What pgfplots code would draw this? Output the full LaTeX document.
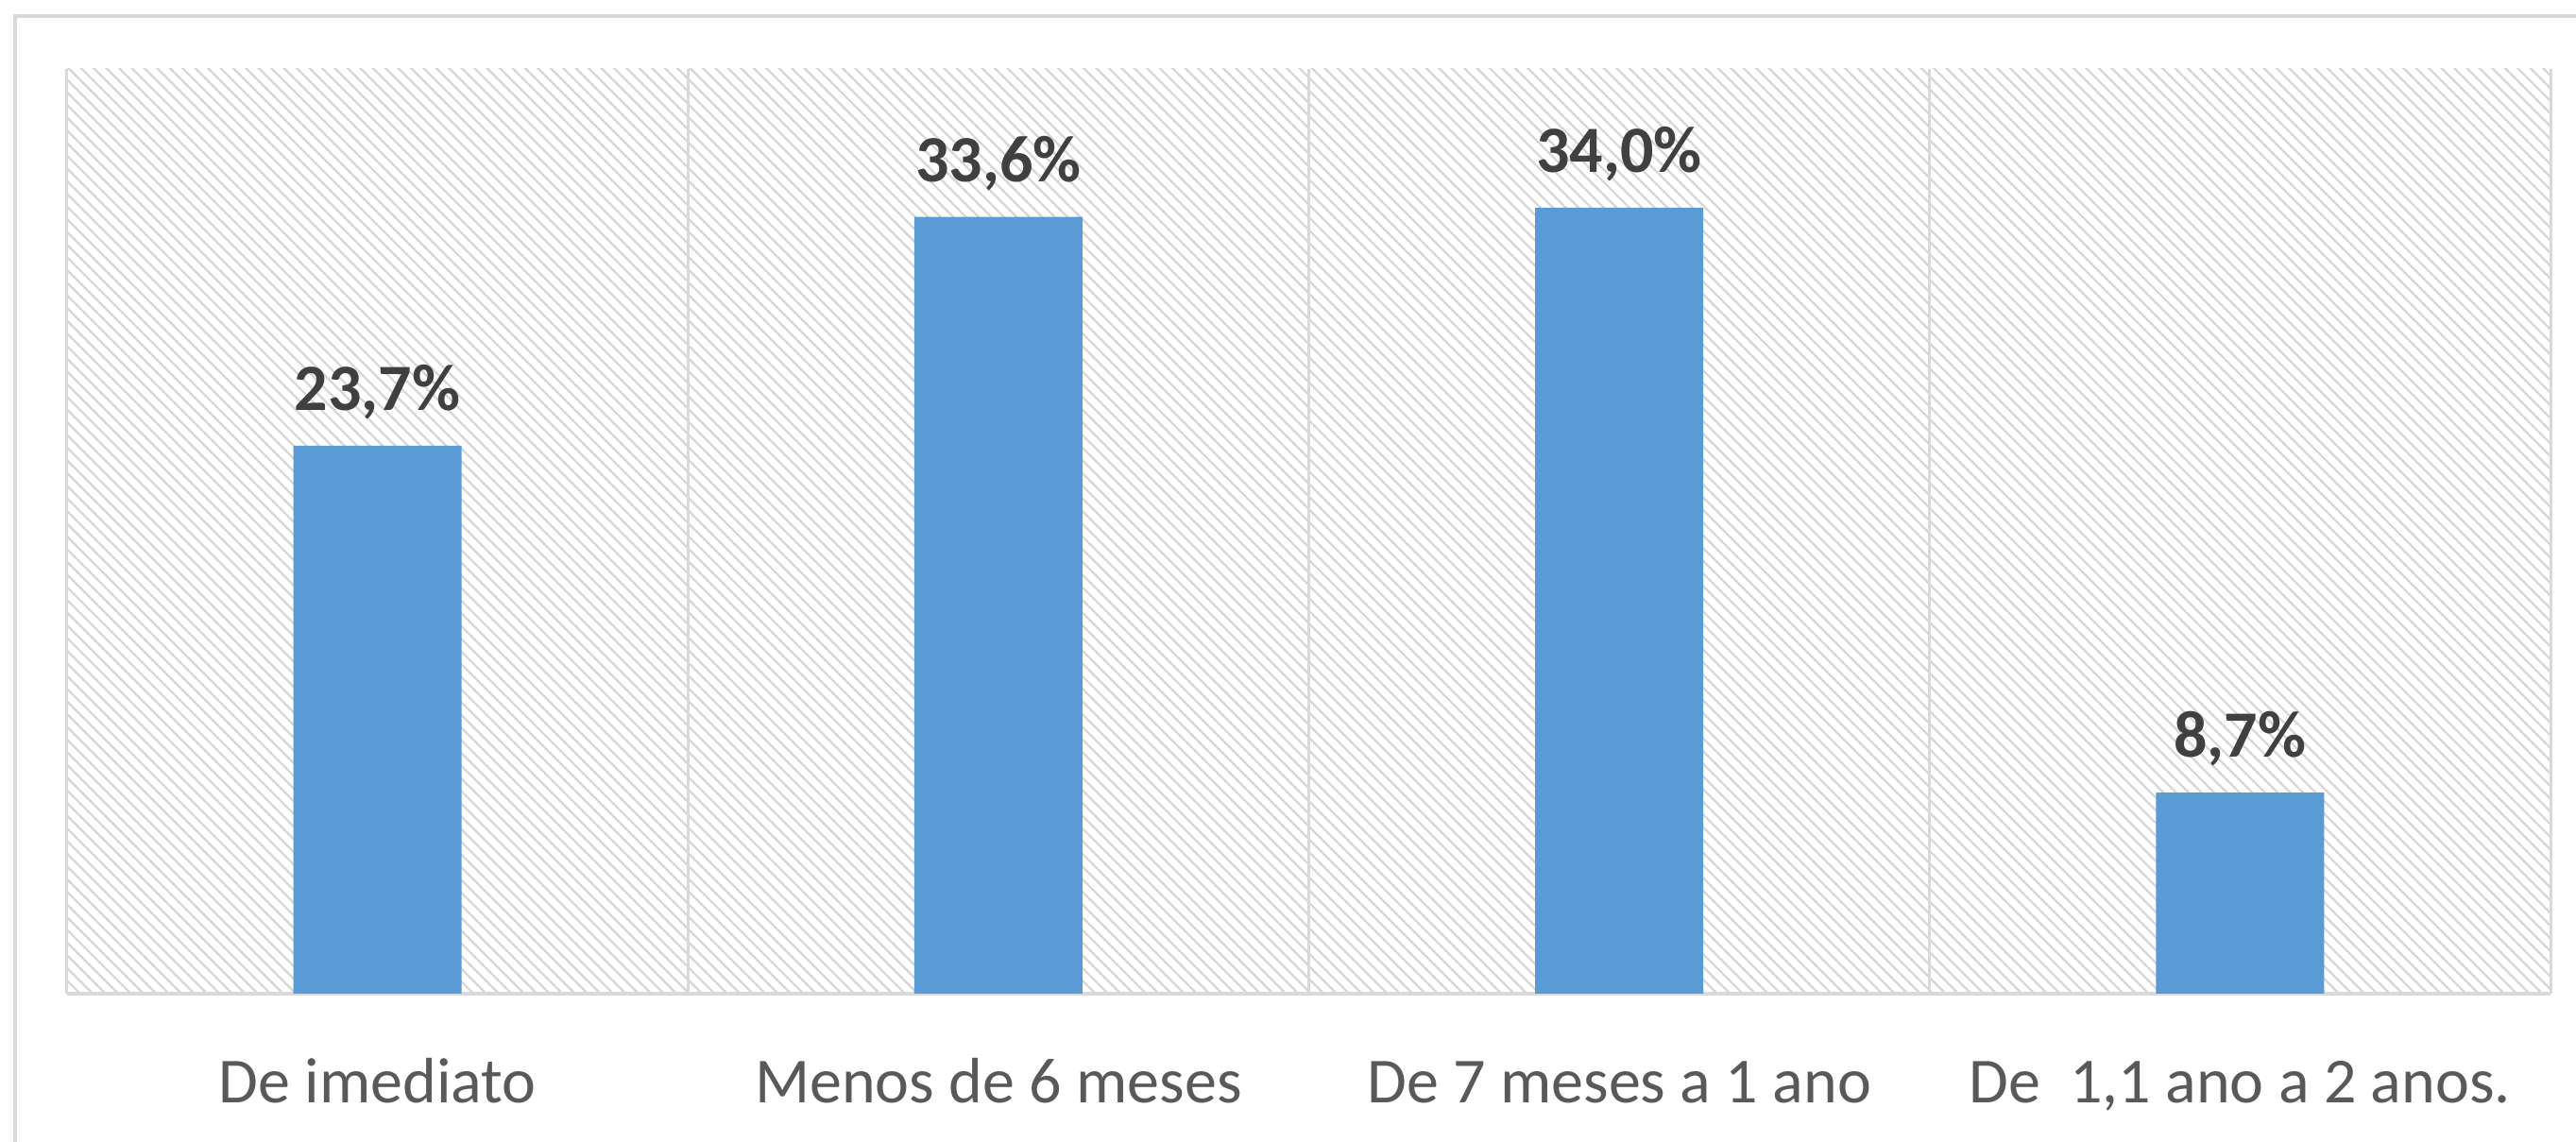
\documentclass[border=0pt]{standalone}
\usepackage{fontspec}
\setmainfont{Carlito}
\usepackage{pgfplots}
\pgfplotsset{compat=1.18}
\usetikzlibrary{patterns.meta}
\definecolor{barblue}{HTML}{5B9BD5}
\definecolor{framegray}{HTML}{D9D9D9}
\definecolor{hatchgray}{HTML}{D6D6D6}
\definecolor{ticktext}{HTML}{595959}
\definecolor{valtext}{HTML}{404040}
\begin{document}
\begin{tikzpicture}
\begin{axis}[
  name=ax,
  scale only axis,
  width=525.8pt, height=195.8pt,
  xmin=-0.5, xmax=3.5,
  ymin=0, ymax=40,
  ybar, bar width=35.6pt,
  axis background/.style={pattern={Lines[angle=-45,distance=1.9pt,line width=0.45pt]}, pattern color=hatchgray},
  axis x line*=bottom,
  axis y line=none,
  x axis line style={-, draw=framegray, line width=0.9pt},
  xtick={0,1,2,3},
  xticklabels={{De imediato}, {Menos de 6 meses}, {De 7 meses a 1 ano}, {De\ \ 1,1 ano a 2 anos.}},
  major tick length=0pt,
  xticklabel style={font=\fontsize{13.6}{15}\selectfont, text=ticktext, anchor=base, yshift=-23.2pt},
  extra x ticks={-0.5,0.5,1.5,2.5,3.5},
  extra x tick labels={},
  extra x tick style={grid=major, major grid style={draw=framegray, line width=0.6pt}},
  /pgf/number format/assume math mode=true,
  nodes near coords={\pgfmathprintnumber[fixed,fixed zerofill,precision=1,use comma]{\pgfplotspointmeta}\%},
  nodes near coords style={font=\bfseries\fontsize{14}{16}\selectfont, text=valtext, anchor=base, yshift=7.5pt, inner sep=0pt},
  clip=false,
]
\addplot[fill=barblue, draw=none] coordinates {(0,23.7) (1,33.6) (2,34.0) (3,8.7)};
\end{axis}
\draw[framegray, line width=0.8pt] ([xshift=-11pt]ax.south west) ++(0,-40pt) -- ([xshift=-11pt,yshift=11.2pt]ax.north west) -- ([xshift=30pt,yshift=11.2pt]ax.north east);
\pgfresetboundingbox
\path[use as bounding box] ([xshift=-14.2pt,yshift=-31.4pt]ax.south west) rectangle ([xshift=5.4pt,yshift=14.6pt]ax.north east);
\end{tikzpicture}
\end{document}
